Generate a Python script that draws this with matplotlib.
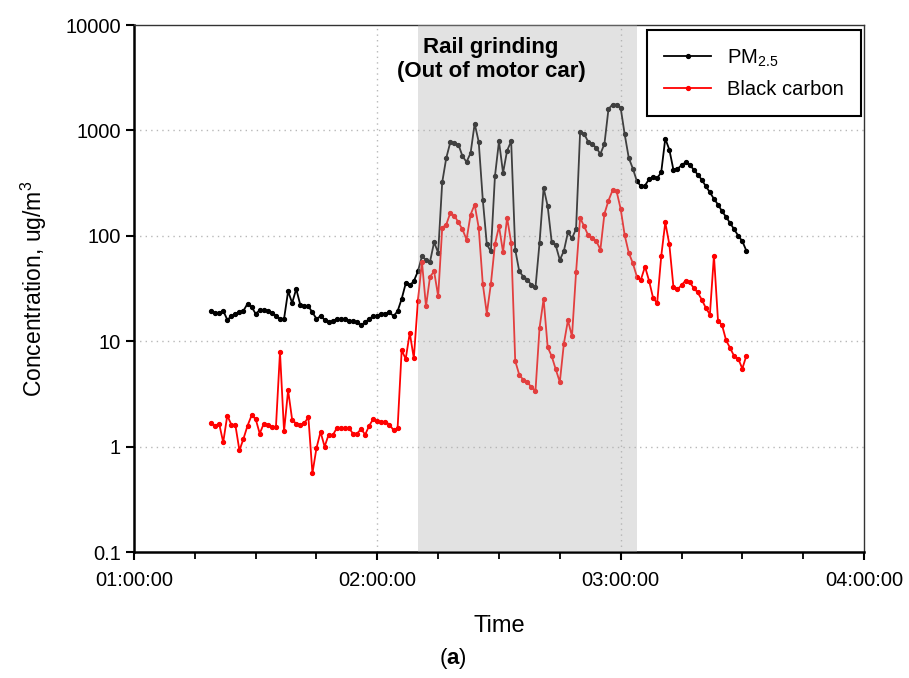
import matplotlib
matplotlib.use("Agg")
import matplotlib.pyplot as plt
import matplotlib.dates as mdates
from matplotlib.ticker import NullLocator, FixedLocator
import pandas as pd

plt.rcParams['font.family'] = ['Liberation Sans', 'DejaVu Sans']
plt.rcParams['mathtext.fontset'] = 'custom'
plt.rcParams['mathtext.rm'] = 'Liberation Sans'
plt.rcParams['mathtext.it'] = 'Liberation Sans:italic'
plt.rcParams['mathtext.bf'] = 'Liberation Sans:bold'

# Sampling: one reading per minute starting at 01:19:00
start_time = "2000-01-01 01:19:00"

pm25 = [19.5, 18.6, 18.6, 19.5, 16.0, 17.2, 18.3, 19.0, 19.5, 22.7, 21.2, 18.2, 19.7, 19.7, 19.5, 18.6, 17.5, 16.3, 16.3, 29.8, 23.1, 31.3,
        22.2, 21.4, 21.4, 18.8, 16.3, 17.3, 16.0, 15.1, 15.5, 16.3, 16.3, 16.3, 15.5, 15.5, 15.1, 14.1, 15.1, 16.3, 17.3, 17.5, 18.3, 18.3, 18.8, 17.3, 19.3, 25.2, 35.3, 33.8, 37.2, 46,
        64, 59, 57, 87, 69, 322, 548, 773, 761, 734, 569, 502, 611, 1161, 778, 221, 83, 71, 367, 790, 395, 643, 790, 74, 46, 41, 38.5, 34, 32.5,
        86, 285, 191, 87, 81, 59, 72, 108, 95, 116, 962, 927, 778, 745, 682, 598, 745, 1600, 1760, 1760, 1636, 915, 548, 435, 330, 295, 300, 345,
        362, 352, 401, 836, 657, 425, 432, 467, 498, 473, 425, 380, 341, 295, 259, 224, 198, 171, 151, 132, 115, 100, 89, 72]

black_carbon = [1.68, 1.58, 1.65, 1.10, 1.97, 1.62, 1.60, 0.92, 1.19, 1.58, 1.98, 1.83, 1.33, 1.65, 1.62, 1.53, 1.53, 7.9, 1.40, 3.42, 1.80, 1.65,
                1.62, 1.67, 1.90, 0.56, 0.97, 1.38, 1.0, 1.30, 1.28, 1.50, 1.50, 1.50, 1.50, 1.33, 1.33, 1.47, 1.30, 1.58, 1.83, 1.74, 1.72, 1.72, 1.62, 1.43, 1.50, 8.2, 6.8, 12.0, 6.9, 23.9,
                57, 21.4, 41, 46, 26.7, 119, 128, 165, 155, 134, 115, 92, 159, 198, 119, 35, 18.3, 35, 83, 123, 70, 148, 86, 6.5, 4.8, 4.3, 4.1, 3.65, 3.4,
                13.4, 25.2, 8.8, 7.2, 5.4, 4.1, 9.5, 15.8, 11.1, 45, 148, 123, 101, 95, 89, 74, 162, 216, 270, 264, 180, 101, 69, 55, 41, 38.5, 51, 37.5,
                25.7, 23, 64, 134, 83, 33, 31, 34, 37.6, 36.5, 32, 29, 24.8, 20.7, 17.9, 65, 15.7, 14.2, 10.2, 8.6, 7.2, 6.8, 5.5, 7.3]

times = pd.date_range(start=start_time, periods=len(pm25), freq="1min")

grind_start = pd.Timestamp("2000-01-01 02:10:00")
grind_end = pd.Timestamp("2000-01-01 03:04:00")
x_min = pd.Timestamp("2000-01-01 01:00:00")
x_max = pd.Timestamp("2000-01-01 04:00:00")
x_ticks = [pd.Timestamp("2000-01-01 0%d:00:00" % h) for h in (1, 2, 3, 4)]
x_tick_labels = ["01:00:00", "02:00:00", "03:00:00", "04:00:00"]
y_ticks = [0.1, 1, 10, 100, 1000, 10000]
y_tick_labels = ["0.1", "1", "10", "100", "1000", "10000"]

fig = plt.figure(figsize=(9.09, 6.78), dpi=100)
ax = fig.add_axes([0.1474, 0.1858, 0.8031, 0.7773])

ax.plot(times, pm25, color="black", lw=1.3, marker="o", ms=2.8, label="PM$_{2.5}$", zorder=3)
ax.plot(times, black_carbon, color="#ff0000", lw=1.3, marker="o", ms=2.8, label="Black carbon", zorder=3)

# translucent grey band drawn over the lines (lines look faded inside it)
ax.axvspan(grind_start, grind_end, color="#b0b0b0", alpha=0.36, zorder=4, lw=0)

ax.set_yscale("log")
ax.set_ylim(0.1, 10000)
ax.set_xlim(x_min, x_max)
ax.yaxis.set_major_locator(FixedLocator(y_ticks))
ax.set_yticklabels(y_tick_labels)
ax.yaxis.set_minor_locator(NullLocator())
ax.set_xticks(x_ticks)
ax.set_xticklabels(x_tick_labels)
ax.xaxis.set_minor_locator(mdates.MinuteLocator(byminute=[15, 30, 45]))

ax.tick_params(axis="both", which="major", labelsize=14.5, direction="out", length=6, width=1.5, colors="black")
ax.tick_params(axis="x", which="minor", direction="out", length=5, width=1.3)
ax.tick_params(axis="x", pad=8)

for side in ["left", "bottom"]:
    ax.spines[side].set_linewidth(1.8)
for side in ["top", "right"]:
    ax.spines[side].set_linewidth(1.0)
    ax.spines[side].set_color("#333333")

# dotted grid at decades and hours
for yv in [1, 10, 100, 1000]:
    ax.axhline(yv, color="#b8b8b8", lw=1.0, ls=(0, (1, 3)), zorder=1)
for xv in x_ticks[1:3]:
    ax.axvline(xv, color="#b8b8b8", lw=1.0, ls=(0, (1, 3)), zorder=1)

ax.set_xlabel("Time", fontsize=17, labelpad=18)
ax.set_ylabel("Concentration, ug/m$^3$", fontsize=16.5, labelpad=12)

ax.text(0.4893, 0.977, "Rail grinding\n(Out of motor car)", transform=ax.transAxes,
        ha="center", va="top", fontsize=16, fontweight="bold", linespacing=1.15, zorder=5)

leg = ax.legend(loc="upper right", bbox_to_anchor=(0.9955, 0.99), fontsize=14.5, frameon=True,
                fancybox=False, edgecolor="black", handlelength=2.3, borderpad=0.85,
                labelspacing=0.55, borderaxespad=0.0, framealpha=1)
leg.get_frame().set_linewidth(1.5)
leg.set_zorder(6)

fig.text(0.4983, 0.029, r"($\mathbf{a}$)", fontsize=16, ha="center", va="center")

fig.savefig("out.png", dpi=100)
